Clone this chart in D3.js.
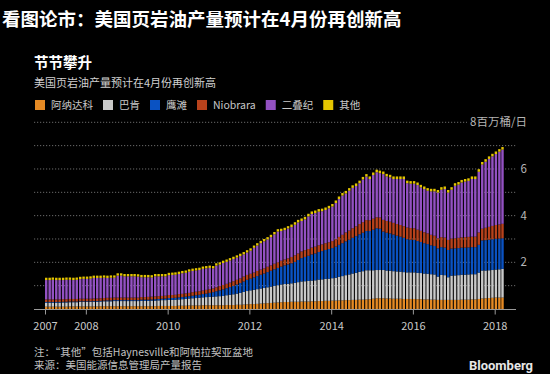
<!DOCTYPE html>
<html>
<head>
<meta charset="utf-8">
<script src="https://cdn.jsdelivr.net/npm/d3@7"></script>
<style>
  html, body { margin: 0; padding: 0; background: #000; }
  svg { display: block; font-family: "Noto Sans CJK SC", "Noto Sans", sans-serif; }
</style>
</head>
<body>
<div id="chart"></div>
<script>
// monthly output, million barrels per day, Jan 2007 .. Mar 2018
const startMonth = new Date(2007, 0, 1);

const anadarko = [
  0.10,0.10,0.10,0.10,0.10,0.10,0.10,0.11,0.11,0.11,0.11,0.11,
  0.11,0.11,0.11,0.11,0.12,0.12,0.12,0.12,0.12,0.12,0.12,0.12,
  0.12,0.12,0.12,0.12,0.12,0.12,0.12,0.12,0.12,0.13,0.13,0.13,
  0.13,0.13,0.13,0.14,0.14,0.14,0.15,0.15,0.15,0.15,0.16,0.16,
  0.16,0.16,0.16,0.16,0.16,0.17,0.17,0.17,0.18,0.18,0.19,0.20,
  0.21,0.21,0.22,0.23,0.24,0.25,0.26,0.27,0.28,0.29,0.30,0.30,
  0.31,0.31,0.31,0.32,0.32,0.32,0.33,0.33,0.34,0.34,0.35,0.35,
  0.36,0.36,0.37,0.37,0.38,0.38,0.39,0.39,0.40,0.40,0.41,0.42,
  0.44,0.46,0.46,0.46,0.45,0.45,0.44,0.44,0.44,0.43,0.43,0.43,
  0.43,0.42,0.42,0.41,0.41,0.40,0.40,0.39,0.39,0.39,0.39,0.39,
  0.39,0.39,0.40,0.40,0.40,0.41,0.41,0.43,0.45,0.46,0.47,0.48,
  0.49,0.49,0.49
];
const bakken = [
  0.17,0.17,0.17,0.17,0.17,0.18,0.18,0.18,0.18,0.18,0.19,0.19,
  0.19,0.19,0.20,0.20,0.20,0.21,0.21,0.21,0.22,0.22,0.22,0.22,
  0.22,0.22,0.22,0.22,0.23,0.23,0.23,0.24,0.24,0.24,0.25,0.25,
  0.26,0.26,0.27,0.27,0.28,0.29,0.30,0.31,0.32,0.33,0.34,0.35,
  0.36,0.37,0.38,0.39,0.40,0.42,0.44,0.46,0.48,0.51,0.54,0.57,
  0.59,0.61,0.63,0.65,0.66,0.68,0.70,0.72,0.74,0.76,0.77,0.78,
  0.79,0.81,0.84,0.86,0.87,0.88,0.89,0.90,0.92,0.93,0.94,0.95,
  0.96,0.98,1.01,1.04,1.07,1.10,1.13,1.16,1.19,1.22,1.25,1.24,
  1.22,1.21,1.21,1.21,1.20,1.19,1.18,1.17,1.16,1.15,1.14,1.14,
  1.14,1.13,1.12,1.11,1.10,1.09,1.08,1.00,1.07,1.06,0.97,1.04,
  1.05,1.06,1.07,1.07,1.08,1.08,1.08,1.13,1.20,1.19,1.19,1.19,
  1.20,1.21,1.23
];
const eagleFord = [
  0.03,0.03,0.03,0.03,0.03,0.03,0.03,0.03,0.03,0.03,0.03,0.03,
  0.03,0.03,0.03,0.03,0.03,0.03,0.04,0.04,0.04,0.04,0.04,0.04,
  0.04,0.04,0.04,0.04,0.05,0.05,0.05,0.05,0.06,0.06,0.06,0.07,
  0.08,0.08,0.08,0.09,0.09,0.10,0.10,0.11,0.12,0.13,0.14,0.15,
  0.17,0.19,0.22,0.25,0.28,0.30,0.33,0.36,0.39,0.42,0.45,0.48,
  0.50,0.53,0.56,0.59,0.62,0.65,0.68,0.71,0.74,0.77,0.80,0.83,
  0.86,0.90,0.95,1.00,1.04,1.08,1.12,1.15,1.18,1.21,1.24,1.27,
  1.29,1.33,1.37,1.41,1.45,1.49,1.53,1.57,1.61,1.65,1.68,1.68,
  1.74,1.79,1.77,1.65,1.62,1.60,1.57,1.53,1.50,1.47,1.42,1.40,
  1.39,1.36,1.33,1.30,1.27,1.24,1.22,1.21,1.19,1.18,1.17,1.16,
  1.16,1.16,1.16,1.16,1.16,1.16,1.16,1.19,1.29,1.30,1.31,1.32,
  1.32,1.32,1.31
];
const niobrara = [
  0.11,0.11,0.11,0.11,0.11,0.11,0.11,0.11,0.11,0.11,0.11,0.11,
  0.11,0.11,0.11,0.11,0.11,0.11,0.11,0.11,0.11,0.11,0.11,0.11,
  0.11,0.11,0.11,0.11,0.11,0.11,0.12,0.12,0.12,0.12,0.12,0.12,
  0.13,0.13,0.13,0.14,0.14,0.14,0.14,0.15,0.15,0.15,0.15,0.16,
  0.16,0.16,0.17,0.18,0.19,0.19,0.19,0.20,0.20,0.20,0.21,0.21,
  0.21,0.21,0.22,0.22,0.22,0.23,0.23,0.24,0.24,0.25,0.25,0.26,
  0.27,0.28,0.28,0.29,0.29,0.29,0.29,0.29,0.29,0.29,0.29,0.29,
  0.30,0.32,0.34,0.36,0.38,0.39,0.41,0.42,0.44,0.45,0.47,0.46,
  0.47,0.47,0.48,0.50,0.50,0.50,0.50,0.50,0.50,0.50,0.50,0.50,
  0.50,0.49,0.48,0.47,0.46,0.45,0.44,0.43,0.43,0.43,0.43,0.43,
  0.43,0.44,0.44,0.45,0.45,0.45,0.45,0.53,0.50,0.53,0.55,0.57,
  0.59,0.60,0.62
];
const permian = [
  0.83,0.83,0.84,0.83,0.83,0.82,0.83,0.82,0.81,0.82,0.84,0.85,
  0.85,0.86,0.88,0.88,0.87,0.87,0.85,0.86,0.85,0.94,0.94,0.91,
  0.91,0.91,0.91,0.90,0.85,0.85,0.84,0.82,0.86,0.85,0.84,0.83,
  0.85,0.86,0.86,0.86,0.88,0.88,0.91,0.91,0.91,0.91,0.93,0.92,
  0.91,0.86,0.93,0.92,0.94,0.94,0.95,0.95,0.95,0.96,0.95,0.96,
  0.99,1.06,1.09,1.13,1.16,1.17,1.21,1.26,1.32,1.27,1.26,1.28,
  1.28,1.31,1.33,1.30,1.32,1.40,1.44,1.44,1.44,1.42,1.42,1.45,
  1.48,1.55,1.62,1.68,1.67,1.71,1.73,1.73,1.75,1.83,1.86,1.77,
  1.87,1.93,1.90,1.96,1.91,1.90,1.88,1.93,1.97,2.02,1.90,1.90,
  1.91,1.91,1.86,1.85,1.83,1.86,1.90,1.96,2.03,2.08,2.03,2.09,
  2.25,2.28,2.35,2.38,2.40,2.47,2.47,2.60,2.75,2.83,2.91,2.98,
  3.04,3.12,3.18
];
const other = [
  0.10,0.10,0.10,0.10,0.10,0.10,0.10,0.10,0.10,0.10,0.10,0.10,
  0.10,0.10,0.10,0.10,0.10,0.10,0.10,0.10,0.10,0.10,0.10,0.10,
  0.10,0.10,0.10,0.10,0.10,0.10,0.10,0.10,0.10,0.10,0.10,0.10,
  0.10,0.10,0.10,0.10,0.10,0.10,0.10,0.10,0.10,0.10,0.10,0.10,
  0.10,0.10,0.10,0.10,0.10,0.10,0.10,0.10,0.10,0.10,0.10,0.10,
  0.10,0.10,0.10,0.10,0.10,0.10,0.10,0.10,0.10,0.10,0.10,0.10,
  0.11,0.11,0.11,0.11,0.11,0.11,0.11,0.11,0.11,0.11,0.11,0.11,
  0.11,0.11,0.11,0.11,0.11,0.11,0.11,0.11,0.11,0.11,0.11,0.11,
  0.11,0.11,0.11,0.11,0.11,0.11,0.11,0.11,0.11,0.11,0.11,0.11,
  0.11,0.11,0.11,0.11,0.11,0.11,0.11,0.11,0.11,0.11,0.11,0.11,
  0.11,0.11,0.11,0.11,0.11,0.11,0.11,0.11,0.11,0.11,0.11,0.11,
  0.11,0.11,0.11
];

const seriesKeys = ['anadarko', 'bakken', 'eagleFord', 'niobrara', 'permian', 'other'];
const seriesNames = ['阿纳达科', '巴肯', '鹰滩', 'Niobrara', '二叠纪', '其他'];
const seriesValues = [anadarko, bakken, eagleFord, niobrara, permian, other];
const seriesColors = ['#e58a24', '#c9c9c9', '#0a52c2', '#b8421c', '#9351c2', '#e3c400'];

const tickYears = [2007, 2008, 2010, 2012, 2014, 2016, 2018];
const gridValues = [1, 2, 3, 4, 5, 6, 7, 8];
const labelValues = [2, 4, 6];

const W = 550, H = 374;
const svg = d3.select('#chart').append('svg').attr('width', W).attr('height', H);
svg.append('rect').attr('width', W).attr('height', H).attr('fill', '#000');

// titles
svg.append('text').attr('x', 2).attr('y', 26)
  .attr('fill', '#fff').style('font-size', '18.5px').style('font-weight', 700)
  .text('看图论市：美国页岩油产量预计在4月份再创新高');
svg.append('text').attr('x', 34).attr('y', 68)
  .attr('fill', '#fff').style('font-size', '14.5px').style('font-weight', 700)
  .text('节节攀升');
svg.append('text').attr('x', 34).attr('y', 87)
  .attr('fill', '#d0d0d0').style('font-size', '11px')
  .text('美国页岩油产量预计在4月份再创新高');

// legend
let lx = 35;
seriesNames.forEach((name, i) => {
  const g = svg.append('g').attr('transform', `translate(${lx},100)`);
  g.append('rect').attr('width', 10).attr('height', 10).attr('fill', seriesColors[i]);
  const t = g.append('text').attr('x', 16).attr('y', 9)
    .attr('fill', '#c8c8c8').style('font-size', '10.5px').text(name);
  lx += 16 + t.node().getComputedTextLength() + 10;
});

// data rows
const months = d3.timeMonth.range(startMonth, d3.timeMonth.offset(startMonth, anadarko.length));
const rows = months.map((date, i) => {
  const row = { date };
  seriesKeys.forEach((k, j) => { row[k] = seriesValues[j][i]; });
  return row;
});
const stacked = d3.stack().keys(seriesKeys)(rows);

// scales
const x = d3.scaleTime()
  .domain([new Date(2007, 0, 1), new Date(2018, 0, 1)])
  .range([45, 494.7]);
const y = d3.scaleLinear().domain([0, 8]).range([309, 122.3]);
const barStep = (x(new Date(2018, 0, 1)) - x(new Date(2007, 0, 1))) / 132;
const barW = barStep - 1;

// gridlines
svg.append('g').selectAll('line')
  .data(gridValues)
  .enter()
  .append('line')
  .attr('x1', 34)
  .attr('x2', d => d === 8 ? 467 : 516)
  .attr('y1', d => y(d))
  .attr('y2', d => y(d))
  .attr('stroke', '#6a6a6a')
  .attr('stroke-width', 1)
  .attr('stroke-dasharray', '1.2 1.8');

// y labels
svg.append('g').selectAll('text')
  .data(labelValues)
  .enter()
  .append('text')
  .attr('x', 527)
  .attr('y', d => y(d) + 4)
  .attr('text-anchor', 'end')
  .attr('fill', '#b5b5b5')
  .style('font-size', '11.5px')
  .text(d => d);
svg.append('text')
  .attr('x', 527).attr('y', y(8) + 4)
  .attr('text-anchor', 'end')
  .attr('fill', '#b5b5b5')
  .style('font-size', '11.5px')
  .text('8百万桶/日');

// bars
const layers = svg.append('g').selectAll('g')
  .data(stacked)
  .enter()
  .append('g')
  .attr('fill', (d, i) => seriesColors[i]);
layers.selectAll('rect')
  .data(d => d)
  .enter()
  .append('rect')
  .attr('x', d => x(d.data.date))
  .attr('width', barW)
  .attr('y', d => y(d[1]))
  .attr('height', d => Math.max(0, y(d[0]) - y(d[1])));

// x axis
const xAxis = svg.append('g')
  .attr('transform', `translate(0,${y(0) + 0.5})`)
  .call(d3.axisBottom(x)
    .tickValues(tickYears.map(yr => new Date(yr, 0, 1)))
    .tickFormat(d3.timeFormat('%Y'))
    .tickSize(5)
    .tickSizeOuter(0));
xAxis.select('.domain').remove();
xAxis.append('line').attr('x1', 34).attr('x2', 516).attr('stroke', '#9a9a9a');
xAxis.selectAll('.tick line').attr('stroke', '#9a9a9a');
xAxis.selectAll('.tick text')
  .attr('fill', '#c8c8c8')
  .attr('dy', '1.1em')
  .style('font-size', '11px')
  .style('font-family', '"Noto Sans CJK SC", sans-serif');

// footer
svg.append('text').attr('x', 34).attr('y', 355.5)
  .attr('fill', '#c0c0c0').style('font-size', '10.5px')
  .text('注：“其他”包括Haynesville和阿帕拉契亚盆地');
svg.append('text').attr('x', 34).attr('y', 369)
  .attr('fill', '#c0c0c0').style('font-size', '10.5px')
  .text('来源：美国能源信息管理局产量报告');
svg.append('text').attr('x', 533).attr('y', 370)
  .attr('text-anchor', 'end')
  .attr('fill', '#e6e6e6').style('font-size', '13px').style('font-weight', 700)
  .style('font-family', 'Roboto, "Noto Sans", sans-serif')
  .text('Bloomberg');
</script>
</body>
</html>
